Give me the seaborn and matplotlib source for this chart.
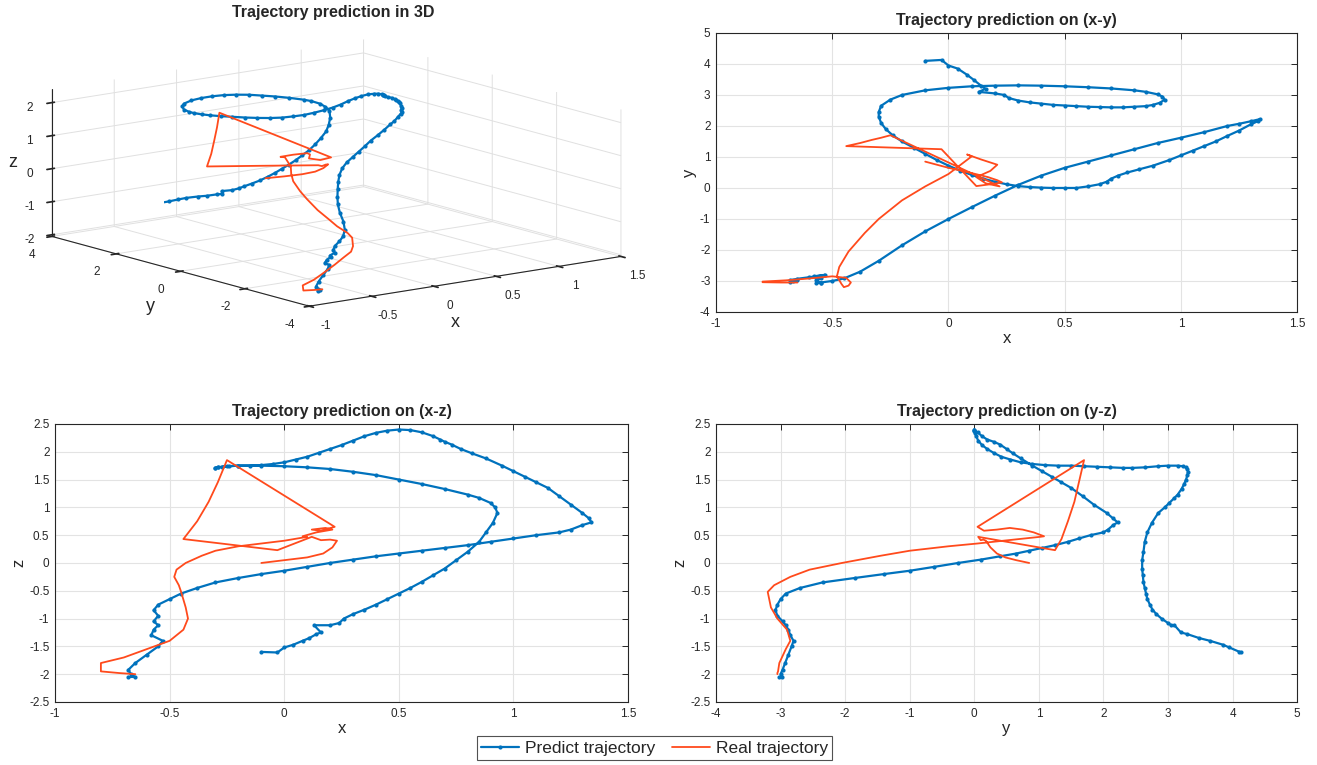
import matplotlib
matplotlib.use("Agg")
import matplotlib.pyplot as plt
from matplotlib.lines import Line2D
import seaborn as sns
import pandas as pd

# predicted trajectory (blue)
pred_x = [-0.10, -0.03, 0.00, 0.04, 0.08, 0.11, 0.14, 0.16, 0.13, 0.20, 0.24, 0.26, 0.30, 0.35, 0.40,
          0.45, 0.50, 0.55, 0.60, 0.65, 0.70, 0.75, 0.80, 0.85, 0.88, 0.91, 0.93, 0.92,
          0.90, 0.85, 0.80, 0.70, 0.60, 0.50, 0.40, 0.30, 0.20, 0.10, 0.00, -0.10, -0.20, -0.25, -0.29, -0.30,
          -0.30, -0.29, -0.27, -0.24, -0.20, -0.15, -0.10, -0.05, 0.00, 0.05, 0.10, 0.15, 0.20, 0.25, 0.30,
          0.35, 0.40, 0.45, 0.50,
          0.55, 0.60, 0.65, 0.68, 0.70, 0.73, 0.77, 0.82, 0.88, 0.95, 1.00, 1.05, 1.10, 1.15, 1.20, 1.25,
          1.30, 1.33, 1.34,
          1.30, 1.25, 1.20, 1.10, 1.00, 0.90, 0.80, 0.70, 0.60, 0.50, 0.40, 0.30, 0.20, 0.10, 0.00, -0.10,
          -0.20, -0.30, -0.38, -0.45, -0.50, -0.55, -0.57, -0.55, -0.57, -0.55, -0.57, -0.58, -0.53, -0.55,
          -0.60, -0.65, -0.68, -0.67, -0.65, -0.68]
pred_y = [4.10, 4.13, 3.95, 3.85, 3.65, 3.48, 3.30, 3.20, 3.10, 3.05, 3.00, 2.90, 2.82, 2.76, 2.72,
          2.68, 2.66, 2.64, 2.62, 2.61, 2.60, 2.60, 2.62, 2.64, 2.68, 2.75, 2.85, 2.95,
          3.02, 3.10, 3.15, 3.21, 3.25, 3.28, 3.30, 3.31, 3.30, 3.28, 3.23, 3.15, 3.00, 2.85, 2.65, 2.45,
          2.30, 2.10, 1.90, 1.70, 1.50, 1.30, 1.10, 0.90, 0.72, 0.56, 0.42, 0.30, 0.20, 0.12, 0.06,
          0.03, 0.01, 0.00, 0.00,
          0.00, 0.05, 0.12, 0.20, 0.30, 0.40, 0.50, 0.60, 0.72, 0.90, 1.05, 1.20, 1.35, 1.50, 1.68, 1.85,
          2.05, 2.15, 2.22,
          2.15, 2.07, 2.00, 1.80, 1.62, 1.45, 1.25, 1.05, 0.85, 0.65, 0.40, 0.10, -0.25, -0.62, -1.00, -1.40,
          -1.85, -2.35, -2.70, -2.92, -3.00, -3.05, -3.08, -3.05, -2.97, -2.92, -2.88, -2.85, -2.80, -2.83,
          -2.88, -2.93, -2.97, -3.00, -2.98, -3.02]
pred_z = [-1.60, -1.61, -1.52, -1.47, -1.40, -1.35, -1.28, -1.25, -1.12, -1.12, -1.08, -1.00, -0.92, -0.84, -0.75,
          -0.65, -0.55, -0.45, -0.34, -0.22, -0.10, 0.05, 0.20, 0.38, 0.55, 0.72, 0.90, 1.00,
          1.08, 1.17, 1.23, 1.33, 1.42, 1.50, 1.58, 1.64, 1.69, 1.72, 1.74, 1.75, 1.75, 1.74, 1.72, 1.71,
          1.71, 1.72, 1.73, 1.74, 1.75, 1.75, 1.76, 1.78, 1.81, 1.86, 1.91, 1.98, 2.05, 2.12, 2.20,
          2.28, 2.34, 2.38, 2.40,
          2.39, 2.35, 2.28, 2.22, 2.18, 2.13, 2.05, 1.97, 1.88, 1.75, 1.65, 1.55, 1.45, 1.35, 1.20, 1.05,
          0.90, 0.80, 0.73,
          0.68, 0.60, 0.55, 0.50, 0.44, 0.38, 0.32, 0.27, 0.22, 0.17, 0.12, 0.06, 0.00, -0.07, -0.14, -0.20,
          -0.27, -0.35, -0.45, -0.55, -0.65, -0.75, -0.85, -0.95, -1.05, -1.12, -1.20, -1.30, -1.40, -1.50,
          -1.65, -1.80, -1.92, -2.00, -2.05, -2.05]

# real trajectory (red)
real_x = [-0.10, 0.00, 0.10, 0.17, 0.21, 0.23, 0.20, 0.16, 0.12, -0.03, -0.44, -0.38, -0.33, -0.29, -0.25,
          0.22, 0.16, 0.12, 0.18, 0.21, 0.14, 0.08, 0.10,
          0.00, -0.10, -0.20, -0.30, -0.36, -0.43, -0.47, -0.48, -0.46, -0.45, -0.43, -0.42, -0.44, -0.50,
          -0.60, -0.70, -0.80, -0.80, -0.72, -0.65]
real_y = [0.85, 0.65, 0.48, 0.35, 0.25, 0.18, 0.14, 0.10, 0.06, 1.25, 1.35, 1.45, 1.55, 1.62, 1.70,
          0.05, 0.15, 0.35, 0.55, 0.75, 0.92, 1.08, 1.02,
          0.45, 0.05, -0.40, -1.00, -1.45, -2.05, -2.55, -2.85, -3.10, -3.20, -3.15, -3.05, -2.90, -2.85,
          -2.92, -2.98, -3.02, -3.04, -3.05, -3.05]
real_z = [0.00, 0.05, 0.10, 0.17, 0.28, 0.40, 0.42, 0.41, 0.47, 0.23, 0.43, 0.75, 1.10, 1.45, 1.85,
          0.65, 0.58, 0.60, 0.63, 0.60, 0.55, 0.48, 0.47,
          0.40, 0.35, 0.30, 0.22, 0.13, 0.00, -0.12, -0.25, -0.40, -0.52, -0.80, -1.00, -1.20, -1.40,
          -1.55, -1.70, -1.80, -1.95, -1.98, -2.00]

BLUE = "#0072BD"
RED = "#FF4A1C"

pred = pd.DataFrame({"x": pred_x, "y": pred_y, "z": pred_z})
real = pd.DataFrame({"x": real_x, "y": real_y, "z": real_z})

sns.set_theme(style="whitegrid")
plt.rcParams["font.family"] = ["Liberation Sans", "DejaVu Sans"]
plt.rcParams["axes.unicode_minus"] = False
plt.rcParams["axes.edgecolor"] = "#262626"
plt.rcParams["xtick.color"] = "#262626"
plt.rcParams["ytick.color"] = "#262626"

fig = plt.figure(figsize=(13.17, 7.65), dpi=100)

blue_kw = dict(color=BLUE, linewidth=1.6, marker=".", markersize=6, markeredgewidth=0)
red_kw = dict(color=RED, linewidth=1.3)


def style_2d(ax, xlim, ylim, xticks, yticks, xlab, ylab, title):
    ax.set_xlim(xlim)
    ax.set_ylim(ylim)
    ax.set_xticks(xticks)
    ax.set_yticks(yticks)
    ax.set_xticklabels([f"{t:g}" for t in xticks])
    ax.set_yticklabels([f"{t:g}" for t in yticks])
    ax.grid(True, color="#e3e3e3", linewidth=0.8)
    for s in ax.spines.values():
        s.set_color("#262626")
        s.set_linewidth(0.8)
    ax.tick_params(direction="in", length=4, width=0.7, labelsize=8.5,
                   top=True, right=True, pad=4)
    ax.set_xlabel(xlab, fontsize=12, labelpad=1)
    ax.set_ylabel(ylab, fontsize=12, labelpad=2)
    ax.set_title(title, fontsize=11.5, fontweight="bold", pad=6)


# (x-y)
ax_xy = fig.add_axes([0.5437, 0.5922, 0.4412, 0.3647])
sns.lineplot(data=pred, x="x", y="y", sort=False, estimator=None, ax=ax_xy, **blue_kw)
sns.lineplot(data=real, x="x", y="y", sort=False, estimator=None, ax=ax_xy, **red_kw)
style_2d(ax_xy, (-1, 1.5), (-4, 5), [-1, -0.5, 0, 0.5, 1, 1.5], range(-4, 6),
         "x", "y", "Trajectory prediction on (x-y)")

# (x-z)
ax_xz = fig.add_axes([0.0418, 0.0824, 0.4351, 0.3634])
sns.lineplot(data=pred, x="x", y="z", sort=False, estimator=None, ax=ax_xz, **blue_kw)
sns.lineplot(data=real, x="x", y="z", sort=False, estimator=None, ax=ax_xz, **red_kw)
style_2d(ax_xz, (-1, 1.5), (-2.5, 2.5), [-1, -0.5, 0, 0.5, 1, 1.5],
         [-2.5, -2, -1.5, -1, -0.5, 0, 0.5, 1, 1.5, 2, 2.5], "x", "z", "Trajectory prediction on (x-z)")

# (y-z)
ax_yz = fig.add_axes([0.5437, 0.0824, 0.4412, 0.3634])
sns.lineplot(data=pred, x="y", y="z", sort=False, estimator=None, ax=ax_yz, **blue_kw)
sns.lineplot(data=real, x="y", y="z", sort=False, estimator=None, ax=ax_yz, **red_kw)
style_2d(ax_yz, (-4, 5), (-2.5, 2.5), range(-4, 6),
         [-2.5, -2, -1.5, -1, -0.5, 0, 0.5, 1, 1.5, 2, 2.5], "y", "z", "Trajectory prediction on (y-z)")

# 3D view
ax3 = fig.add_axes([0.0, 0.548, 0.504, 0.44], projection="3d")
ax3.plot(pred["x"], pred["y"], pred["z"], **blue_kw)
ax3.plot(real["x"], real["y"], real["z"], **red_kw)
ax3.set_xlim(-1, 1.5)
ax3.set_ylim(-4, 4)
ax3.set_zlim(-2.05, 2.4)
ax3.set_xticks([-1, -0.5, 0, 0.5, 1, 1.5])
ax3.set_xticklabels(["-1", "-0.5", "0", "0.5", "1", "1.5"])
ax3.set_yticks([-4, -2, 0, 2, 4])
ax3.set_yticklabels(["-4", "-2", "0", "2", "4"])
ax3.set_zticks([-2, -1, 0, 1, 2])
ax3.set_zticklabels(["-2", "-1", "0", "1", "2"])
ax3.set_proj_type("ortho")
ax3.view_init(elev=12, azim=-127.5)
ax3.set_box_aspect((392, 422, 150), zoom=1.72)
for a in (ax3.xaxis, ax3.yaxis, ax3.zaxis):
    a.set_pane_color((1, 1, 1, 0))
    a.pane.set_edgecolor("#dddddd")
    a._axinfo["grid"]["color"] = "#e0e0e0"
    a._axinfo["grid"]["linewidth"] = 0.7
    a.line.set_color("#262626")
    a.line.set_linewidth(0.8)
ax3.tick_params(labelsize=8.5, pad=0)
ax3.zaxis.set_tick_params(pad=-3)
fig.text(0.3455, 0.579, "x", fontsize=13, ha="center", va="center")
fig.text(0.1139, 0.599, "y", fontsize=13, ha="center", va="center")
fig.text(0.0099, 0.787, "z", fontsize=13, ha="center", va="center")
fig.text(0.253, 0.993, "Trajectory prediction in 3D", ha="center", va="top",
         fontsize=11.5, fontweight="bold")

handles = [Line2D([], [], **blue_kw), Line2D([], [], **red_kw)]
leg = fig.legend(handles, ["Predict trajectory", "Real trajectory"], loc="center",
                 bbox_to_anchor=(0.497, 0.022), ncol=2, fontsize=12.5, frameon=True,
                 fancybox=False, edgecolor="#262626", handlelength=2.2, columnspacing=1.0,
                 handletextpad=0.3, borderpad=0.25)
leg.get_frame().set_linewidth(0.8)

fig.savefig("out.png", dpi=100)
